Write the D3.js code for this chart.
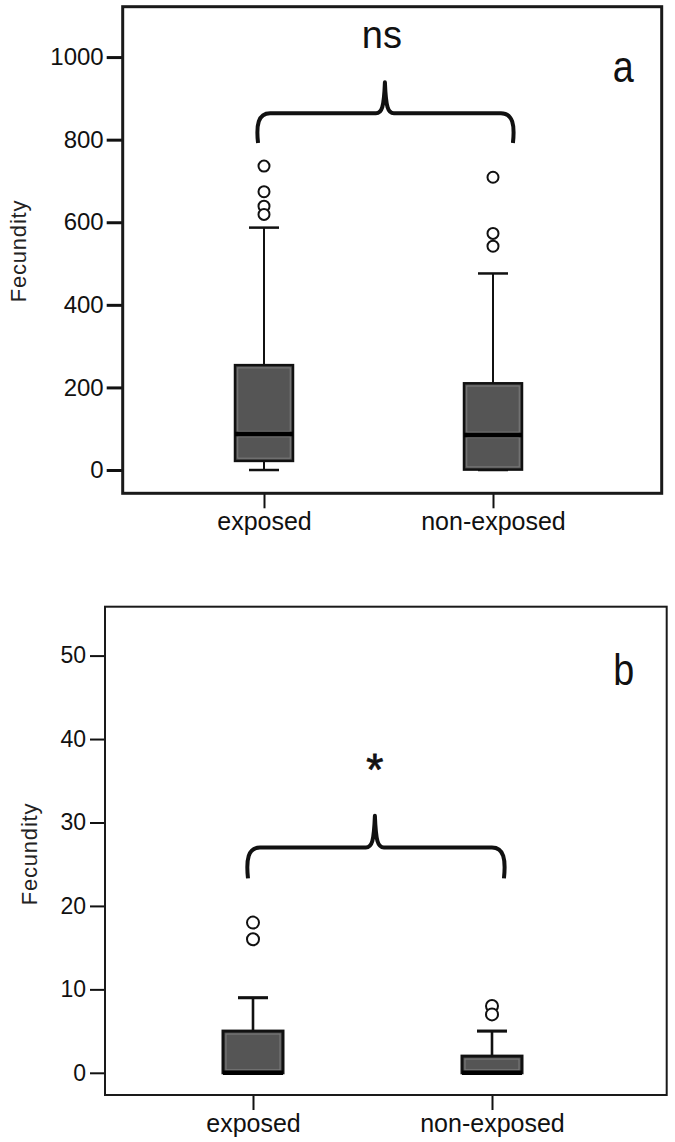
<!DOCTYPE html>
<html>
<head>
<meta charset="utf-8">
<script src="https://cdn.jsdelivr.net/npm/d3@7"></script>
<style>
  html, body { margin: 0; padding: 0; background: #fff; }
  svg { display: block; font-family: "Liberation Sans", Arial, sans-serif; }
</style>
</head>
<body>
<svg id="chart" width="675" height="1142"></svg>
<script>
// ---------- DATA ----------
const categories = ["exposed", "non-exposed"];

// Panel a (Fecundity)
const aLowWhisker  = [0, 0];
const aQ1          = [22, 1];
const aMedian      = [87, 85];
const aQ3          = [254, 210];
const aHighWhisker = [587, 476];
const aOutliers    = [[736, 674, 639, 619], [709, 573, 542]];
const aTicks       = [0, 200, 400, 600, 800, 1000];
const aSignif      = "ns";
// brace: x in category-index units, y in data units
const aBrace       = { from: -0.026, to: 1.087, mid: 0.528, tip: 792, base: 864, peak: 939 };
const aSignifPos   = { x: 0.515, y: 1022 };

// Panel b (Fecundity)
const bLowWhisker  = [0, 0];
const bQ1          = [0, 0];
const bMedian      = [0, 0];
const bQ3          = [5, 2];
const bHighWhisker = [9, 5];
const bOutliers    = [[18, 16], [8, 7]];
const bTicks       = [0, 10, 20, 30, 40, 50];
const bSignif      = "*";
const bBrace       = { from: -0.021, to: 1.05, mid: 0.51, tip: 23.3, base: 27, peak: 30.8 };
const bSignifPos   = { x: 0.51, y: 34.5 };

const yTitle = "Fecundity";

// ---------- LAYOUT ----------
const panels = [
  {
    letter: "a", low: aLowWhisker, q1: aQ1, med: aMedian, q3: aQ3, high: aHighWhisker,
    out: aOutliers, ticks: aTicks, signif: aSignif, brace: aBrace, signifPos: aSignifPos,
    frame: { x0: 122.7, y0: 6.7, x1: 661.7, y1: 493.3 }, yDomain: [-56.4, 1122],
    catRange: [264, 493], boxW: 58, capW: 30, tickLen: 16, tickPad: 3, frameW: 3,
    tickFont: 24, r: 5.5, whiskW: 2, boxStroke: 2.5,
    titleX: 25.5, titleY: 251, letterDX: -38.5, letterY: 82, sigFont: 38, sigStroke: 0
  },
  {
    letter: "b", low: bLowWhisker, q1: bQ1, med: bMedian, q3: bQ3, high: bHighWhisker,
    out: bOutliers, ticks: bTicks, signif: bSignif, brace: bBrace, signifPos: bSignifPos,
    frame: { x0: 105, y0: 606.7, x1: 666.7, y1: 1095 }, yDomain: [-2.66, 55.86],
    catRange: [253, 492], boxW: 60, capW: 30, tickLen: 15, tickPad: 4, frameW: 2,
    tickFont: 23, r: 6, whiskW: 2.6, boxStroke: 3,
    titleX: 36.5, titleY: 854, letterDX: -43, letterY: 685, sigFont: 44, sigStroke: 0.8
  }
];

const svg = d3.select("#chart");

panels.forEach(p => {
  const g = svg.append("g");
  const f = p.frame;
  const y = d3.scaleLinear().domain(p.yDomain).range([f.y1, f.y0]);
  const x = d3.scaleLinear().domain([0, 1]).range(p.catRange);

  // y axis
  const yAxis = g.append("g")
    .attr("transform", `translate(${f.x0},0)`)
    .call(d3.axisLeft(y).tickValues(p.ticks).tickSize(p.tickLen).tickPadding(p.tickPad).tickFormat(d3.format("d")));
  yAxis.select(".domain").remove();
  yAxis.selectAll("line").attr("stroke", "#111").attr("stroke-width", p.frameW);
  yAxis.selectAll("text").attr("font-size", p.tickFont).attr("fill", "#111")
    .attr("font-family", "'Liberation Sans', Arial, sans-serif");

  // x axis
  const xAxis = g.append("g")
    .attr("transform", `translate(0,${f.y1})`)
    .call(d3.axisBottom(x).tickValues([0, 1]).tickSize(15).tickFormat(i => categories[i]));
  xAxis.select(".domain").remove();
  xAxis.selectAll("line").attr("stroke", "#111").attr("stroke-width", 2);
  xAxis.selectAll("text").attr("font-size", 25).attr("fill", "#111")
    .attr("y", 37).attr("dy", 0)
    .attr("font-family", "'Liberation Sans', Arial, sans-serif");

  // frame
  g.append("rect")
    .attr("x", f.x0).attr("y", f.y0)
    .attr("width", f.x1 - f.x0).attr("height", f.y1 - f.y0)
    .attr("fill", "none").attr("stroke", "#1a1a1a").attr("stroke-width", p.frameW);

  // y title
  g.append("text")
    .attr("transform", `translate(${p.titleX},${p.titleY}) rotate(-90)`)
    .attr("text-anchor", "middle")
    .attr("font-size", 22).attr("letter-spacing", 0.8).attr("fill", "#222")
    .text(yTitle);

  // boxes
  categories.forEach((c, i) => {
    const cx = x(i);
    const hw = p.boxW / 2, cw = p.capW / 2;
    // whiskers
    g.append("line").attr("x1", cx).attr("x2", cx)
      .attr("y1", y(p.q3[i])).attr("y2", y(p.high[i]))
      .attr("stroke", "#111").attr("stroke-width", p.whiskW);
    g.append("line").attr("x1", cx - cw).attr("x2", cx + cw)
      .attr("y1", y(p.high[i])).attr("y2", y(p.high[i]))
      .attr("stroke", "#111").attr("stroke-width", p.whiskW + 0.5);
    if (p.low[i] < p.q1[i]) {
      g.append("line").attr("x1", cx).attr("x2", cx)
        .attr("y1", y(p.q1[i])).attr("y2", y(p.low[i]))
        .attr("stroke", "#111").attr("stroke-width", p.whiskW);
    }
    g.append("line").attr("x1", cx - cw).attr("x2", cx + cw)
      .attr("y1", y(p.low[i])).attr("y2", y(p.low[i]))
      .attr("stroke", "#111").attr("stroke-width", p.whiskW + 0.5);

    // box
    const top = y(p.q3[i]), bot = y(p.q1[i]), med = y(p.med[i]);
    g.append("rect")
      .attr("x", cx - hw).attr("y", top)
      .attr("width", p.boxW).attr("height", Math.max(1, bot - top))
      .attr("fill", "#555555").attr("stroke", "#111").attr("stroke-width", p.boxStroke);
    // bevel highlights
    const inset = p.boxStroke / 2 + 1.5;
    [[top, med], [med, bot]].forEach(([a, b]) => {
      const y0 = a + inset, y1 = b - inset;
      if (y1 - y0 > 4) {
        g.append("rect")
          .attr("x", cx - hw + inset).attr("y", y0)
          .attr("width", p.boxW - 2 * inset).attr("height", y1 - y0)
          .attr("fill", "none").attr("stroke", "#7c7c7c").attr("stroke-width", 1);
      }
    });
    // median
    g.append("line").attr("x1", cx - hw).attr("x2", cx + hw)
      .attr("y1", med).attr("y2", med)
      .attr("stroke", "#000").attr("stroke-width", 4.5);

    // outliers
    g.selectAll(null).data(p.out[i]).enter().append("circle")
      .attr("cx", cx).attr("cy", d => y(d)).attr("r", p.r)
      .attr("fill", "#fff").attr("stroke", "#111").attr("stroke-width", 2);
  });

  // brace
  const b = p.brace;
  const x0 = x(b.from), x1 = x(b.to), xc = x(b.mid);
  const yT = y(b.tip), yH = y(b.base), yP = y(b.peak);
  const path = d3.path();
  path.moveTo(x0, yT);
  path.bezierCurveTo(x0 - 2, yH + 12, x0, yH, x0 + 12, yH);
  path.lineTo(xc - 9, yH);
  path.bezierCurveTo(xc - 3, yH, xc - 1, yH - 6, xc, yP);
  path.bezierCurveTo(xc + 1, yH - 6, xc + 3, yH, xc + 9, yH);
  path.lineTo(x1 - 12, yH);
  path.bezierCurveTo(x1, yH, x1 + 2, yH + 12, x1, yT);
  g.append("path").attr("d", path.toString())
    .attr("fill", "none").attr("stroke", "#111").attr("stroke-width", 4)
    .attr("stroke-linejoin", "round");

  // significance text
  g.append("text")
    .attr("x", x(p.signifPos.x)).attr("y", y(p.signifPos.y))
    .attr("text-anchor", "middle").attr("font-size", p.sigFont)
    .attr("fill", "#111").attr("stroke", "#111").attr("stroke-width", p.sigStroke)
    .text(p.signif);

  // panel letter
  g.append("text")
    .attr("transform", `translate(${f.x1 + p.letterDX},${p.letterY}) scale(0.84,1)`)
    .attr("text-anchor", "middle").attr("font-size", 45).attr("fill", "#111")
    .text(p.letter);
});
</script>
</body>
</html>
